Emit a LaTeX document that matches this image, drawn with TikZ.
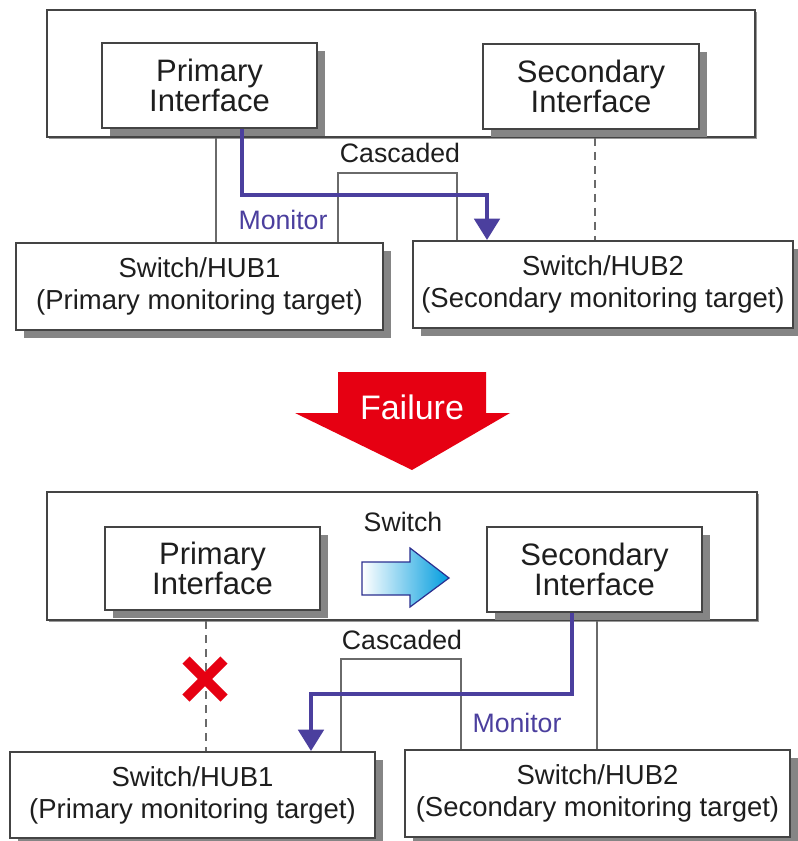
\documentclass[tikz,border=0pt]{standalone}
\usepackage{fontspec}
\setmainfont{Liberation Sans}
\usetikzlibrary{shadows,arrows.meta}
\definecolor{txt}{HTML}{1E1E1E}
\definecolor{edge}{HTML}{444444}
\definecolor{wire}{HTML}{6A6A6A}
\definecolor{mon}{HTML}{4B3F9E}
\definecolor{failred}{HTML}{E60012}
\definecolor{sky}{RGB}{0,156,222}
\definecolor{skyedge}{HTML}{2B2F8F}
\tikzset{
  sz/.style 2 args={minimum width=#1*0.75pt, minimum height=#2*0.75pt},
  box/.style={draw=edge, fill=white, line width=1.5pt, inner sep=0pt, align=center, text=txt},
  bigshadow/.style={drop shadow={shadow xshift=6pt, shadow yshift=-6pt, fill=black!48, opacity=1}},
  smallshadow/.style={drop shadow={shadow xshift=1.5pt, shadow yshift=-1.5pt, fill=black!40, opacity=1}},
  ifacetext/.style={font=\fontsize{23.25pt}{22.5pt}\selectfont},
  hubtext/.style={font=\fontsize{20.6pt}{24pt}\selectfont},
  labeltext/.style={font=\fontsize{20pt}{24pt}\selectfont, inner sep=0pt, text=txt},
  link/.style={draw=wire, line width=1.9pt},
  dashlink/.style={draw=wire, line width=1.9pt, dash pattern=on 6pt off 4.5pt},
  monlink/.style={draw=mon, line width=3pt, -{Triangle[length=16pt,width=19pt]}},
}
\begin{document}
\begin{tikzpicture}[x=0.75pt,y=-0.75pt]
\useasboundingbox (0,0) rectangle (798,841);
\clip (0,0) rectangle (798,841);
\fill[white] (0,0) rectangle (798,841);

% ---------- top part ----------
\node[box, smallshadow, sz={708}{127}] (outerT) at (401,73.5) {};
\node[box, bigshadow, ifacetext, sz={215}{85}] (priT) at (209.5,85.5) {Primary\\Interface};
\node[box, bigshadow, ifacetext, sz={216}{85}] (secT) at (591,86.5) {Secondary\\Interface};
\node[box, bigshadow, hubtext, sz={367}{87}] (hub1T) at (199.5,286.5) {Switch/HUB1\\(Primary monitoring target)};
\node[box, bigshadow, hubtext, sz={380}{87}] (hub2T) at (603,284.5) {Switch/HUB2\\(Secondary monitoring target)};

\coordinate (xa) at (216,0);
\coordinate (xb) at (595,0);
\coordinate (xc1) at (338,173);
\coordinate (xc2) at (457,173);
\coordinate (xm1) at (242,195);
\coordinate (xm2) at (487,195);

\draw[link] (outerT.south -| xa) -- (hub1T.north -| xa);
\draw[dashlink] (outerT.south -| xb) -- (hub2T.north -| xb);
\draw[link] (hub1T.north -| xc1) -- (xc1) -- (xc2) -- (hub2T.north -| xc2);
\draw[monlink] (priT.south -| xm1) -- (xm1) -- (xm2) -- (hub2T.north -| xm2);

\node[labeltext] (casT) at (400,153) {Cascaded};
\node[labeltext, text=mon] (monT) at (283,220) {Monitor};

% ---------- failure arrow ----------
\fill[failred] (338,372) -- (486,372) -- (486,413) -- (510,413) -- (412,470) -- (295,413) -- (338,413) -- cycle;
\node[font=\fontsize{25.5pt}{28pt}\selectfont, text=white, inner sep=0pt] (fail) at (412,407) {Failure};

% ---------- bottom part ----------
\node[box, smallshadow, sz={710}{128}] (outerB) at (402,556) {};
\node[box, bigshadow, ifacetext, sz={215}{83}] (priB) at (212.5,568.5) {Primary\\Interface};
\node[box, bigshadow, ifacetext, sz={215}{85}] (secB) at (594.5,569.5) {Secondary\\Interface};
\node[box, bigshadow, hubtext, sz={365}{86}] (hub1B) at (192.5,795) {Switch/HUB1\\(Primary monitoring target)};
\node[box, bigshadow, hubtext, sz={385}{87}] (hub2B) at (597.5,793.5) {Switch/HUB2\\(Secondary monitoring target)};

\node[labeltext] (swl) at (403,522) {Switch};
\path[left color=white, right color=sky, draw=skyedge, line width=0.9pt]
  (362,562) -- (410,562) -- (410,548) -- (449,578) -- (410,607) -- (410,595) -- (362,595) -- cycle;

\coordinate (ya) at (206,0);
\coordinate (yb) at (597,0);
\coordinate (yc1) at (341,659);
\coordinate (yc2) at (461,659);
\coordinate (ym1) at (572,694);
\coordinate (ym2) at (311,694);

\draw[dashlink] (outerB.south -| ya) -- (hub1B.north -| ya);
\draw[link] (outerB.south -| yb) -- (hub2B.north -| yb);
\draw[link] (hub1B.north -| yc1) -- (yc1) -- (yc2) -- (hub2B.north -| yc2);
\draw[monlink] (secB.south -| ym1) -- (ym1) -- (ym2) -- (hub1B.north -| ym2);

\node[labeltext] (casB) at (402,640) {Cascaded};
\node[labeltext, text=mon] (monB) at (517,723) {Monitor};

\coordinate (xmark) at (205,679);
\draw[failred, line width=7.5pt] ([shift={(-19,-19)}]xmark) -- ([shift={(19,19)}]xmark);
\draw[failred, line width=7.5pt] ([shift={(-19,19)}]xmark) -- ([shift={(19,-19)}]xmark);
\end{tikzpicture}
\end{document}
